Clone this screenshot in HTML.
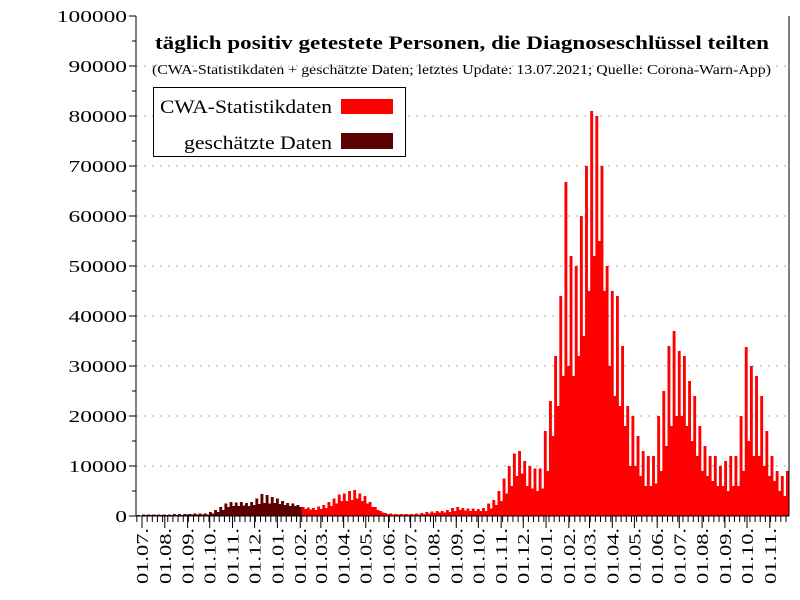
<!DOCTYPE html>
<html><head><meta charset="utf-8"><style>
body{margin:0;background:#fff}
svg{display:block;font-family:"Liberation Serif",serif}
</style></head><body>
<svg id="c" width="800" height="600"></svg>
<script>
const estHigh=[0.2,0.3,0.3,0.3,0.3,0.3,0.3,0.4,0.4,0.4,0.4,0.5,0.5,0.5,0.8,1.2,1.8,2.5,2.8,2.7,2.8,2.6,2.8,3.5,4.4,4.2,3.8,3.5,3.0,2.6,2.5,2.2];
const estLow=[0.1,0.2,0.2,0.2,0.2,0.2,0.2,0.2,0.2,0.3,0.3,0.3,0.3,0.3,0.5,0.8,1.2,1.8,2.0,2.0,2.1,2.0,2.2,2.4,2.6,2.5,2.6,2.4,2.2,2.0,2.0,1.8];
const cwaHigh=[1.8,1.7,1.6,1.9,2.2,2.8,3.5,4.3,4.5,5.0,5.2,4.5,4.0,2.8,1.8,1.0,0.6,0.5,0.4,0.4,0.4,0.4,0.5,0.6,0.8,0.9,1.0,1.0,1.2,1.6,1.8,1.6,1.5,1.5,1.4,1.6,2.5,3.2,5.0,7.5,10.0,12.5,13.0,11.0,10.0,9.5,9.5,17.0,23.0,32.0,44.0,66.8,52.0,50.0,60.0,70.0,81.0,80.0,70.0,50.0,45.0,44.0,34.0,22.0,20.0,16.0,13.0,12.0,12.0,20.0,25.0,34.0,37.0,33.0,32.0,27.0,24.0,18.0,14.0,12.0,12.0,10.0,11.0,12.0,12.0,20.0,33.8,30.0,28.0,24.0,17.0,12.0,9.0,8.0,9.0];
const cwaLow=[1.4,1.3,1.2,1.4,1.6,2.0,2.5,3.0,3.0,3.2,3.5,3.0,2.5,1.8,1.2,0.7,0.4,0.3,0.3,0.3,0.3,0.3,0.3,0.4,0.5,0.6,0.7,0.7,0.8,1.0,1.2,1.1,1.0,1.0,1.0,1.0,1.5,2.2,3.0,4.5,6.0,8.0,8.5,6.0,5.5,5.0,5.5,9.0,16.0,22.0,28.0,30.0,28.0,32.0,36.0,45.0,52.0,55.0,45.0,30.0,24.0,22.0,18.0,10.0,10.0,8.0,6.0,6.0,6.5,9.0,14.0,18.0,20.0,20.0,18.0,15.0,12.0,9.0,8.0,7.0,6.0,6.0,5.0,6.0,6.0,9.0,15.0,12.0,12.0,10.0,8.0,7.0,5.0,4.0,4.5];
const yTicks=[0,10000,20000,30000,40000,50000,60000,70000,80000,90000,100000];
const monthLabels=["01.07.","01.08.","01.09.","01.10.","01.11.","01.12.","01.01.","01.02.","01.03.","01.04.","01.05.","01.06.","01.07.","01.08.","01.09.","01.10.","01.11.","01.12.","01.01.","01.02.","01.03.","01.04.","01.05.","01.06.","01.07.","01.08.","01.09.","01.10.","01.11."];
const monthDays=[0,31,62,92,123,153,184,215,243,274,304,335,365,396,427,457,488,518,549,580,608,639,669,700,730,761,792,822,853];

const L=136,R=789,T=16,B=516,PPD=0.736,X0=142;
const xd=d=>X0+d*PPD;
const y=v=>B-(v/100000)*(B-T);
const svg=document.getElementById('c');
const NS='http://www.w3.org/2000/svg';
function mk(tag,attrs,parent){const e=document.createElementNS(NS,tag);for(const k in attrs)e.setAttribute(k,attrs[k]);(parent||svg).appendChild(e);return e;}

yTicks.forEach(v=>{if(v>0&&v<100000){const g=mk('line',{x1:L,x2:R,y1:y(v),y2:y(v),stroke:'#aaa','stroke-dasharray':'2,6'});

}});

function drawSeries(hi,lo,startWeek,color,name){
 const g=mk('g',{fill:color});
 
 
 hi.forEach((v,i)=>{
  const d=-7+7*(startWeek+i);
  const x1=xd(d),xm=xd(d+3.5),x2=xd(d+7);
  const r1=mk('rect',{x:x1,y:y(v*1000),width:xm-x1+0.3,height:B-y(v*1000)},g);
  
  
  const lv=lo[i]*1000;
  const r2=mk('rect',{x:xm,y:y(lv),width:Math.min(x2,R)-xm+0.3,height:B-y(lv)},g);
  
  
 });
}
drawSeries(estHigh,estLow,0,'#5c0000','estimated-series');
drawSeries(cwaHigh,cwaLow,estHigh.length,'#ff0000','cwa-series');

const ax=mk('g',{stroke:'#000','stroke-width':1});


mk('line',{x1:L,x2:L,y1:T,y2:B},ax);
mk('line',{x1:R,x2:R,y1:T,y2:B},ax);
mk('line',{x1:L,x2:R,y1:B,y2:B},ax);
for(let v=0;v<=100000;v+=5000){mk('line',{x1:v%10000?L-4:L-7,x2:L,y1:y(v),y2:y(v)},ax);}
yTicks.forEach(v=>{const s=String(v);const t=mk('text',{x:127,y:y(v)+6,'text-anchor':'end','font-size':17,textLength:s.length*11.7,lengthAdjust:'spacingAndGlyphs'});t.textContent=s;

});
for(let d=-7;xd(d)<=R;d+=7){if(xd(d)>=L)mk('line',{x1:xd(d),x2:xd(d),y1:B,y2:B+6},ax);}
monthLabels.forEach((s,i)=>{const x=xd(monthDays[i]);mk('line',{x1:x,x2:x,y1:B,y2:B+12},ax);
const t=mk('text',{transform:`translate(${x+6},528) rotate(-90)`,'text-anchor':'end','font-size':17,textLength:56,lengthAdjust:'spacingAndGlyphs'});t.textContent=s;

});

const t1=mk('text',{x:155,y:49,'font-size':19,'font-weight':'bold',textLength:614,lengthAdjust:'spacingAndGlyphs'});t1.textContent='täglich positiv getestete Personen, die Diagnoseschlüssel teilten';


const t2=mk('text',{x:152,y:74,'font-size':14,textLength:619,lengthAdjust:'spacingAndGlyphs'});t2.textContent='(CWA-Statistikdaten + geschätzte Daten; letztes Update: 13.07.2021; Quelle: Corona-Warn-App)';



const lg=mk('g',{});


mk('rect',{x:153.5,y:87.5,width:252,height:69,fill:'#fff',stroke:'#000'},lg);
const l1=mk('text',{x:160,y:113,'font-size':19,textLength:172,lengthAdjust:'spacingAndGlyphs'},lg);l1.textContent='CWA-Statistikdaten';


mk('rect',{x:341,y:99,width:52,height:15,fill:'#ff0000'},lg);
const l2=mk('text',{x:184,y:149,'font-size':19,textLength:148,lengthAdjust:'spacingAndGlyphs'},lg);l2.textContent='geschätzte Daten';


mk('rect',{x:341,y:133,width:52,height:16,fill:'#5c0000'},lg);
</script>
</body></html>
